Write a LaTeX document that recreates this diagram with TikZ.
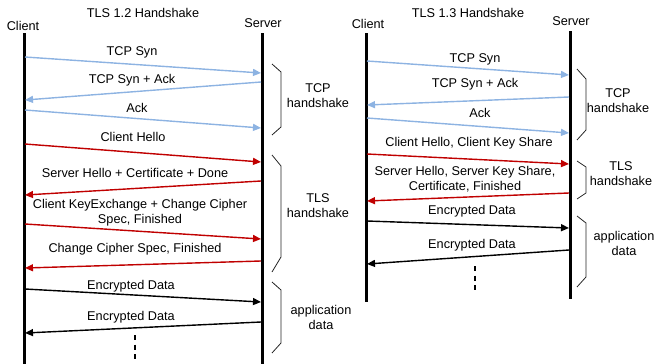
\documentclass[tikz,border=0pt]{standalone}
\usepackage{fontspec}
\setmainfont{Liberation Sans}
\usetikzlibrary{arrows.meta}
\definecolor{tcpblue}{RGB}{141,179,226}
\definecolor{tlsred}{RGB}{192,0,0}
\begin{document}
\begin{tikzpicture}[x=1pt,y=-1pt,
  life/.style={line width=3pt},
  msgarrow/.style={line width=1.4pt,-{Triangle[length=8pt,width=7pt]}},
  tcpmsg/.style={msgarrow,tcpblue},
  tlsmsg/.style={msgarrow,tlsred},
  datamsg/.style={msgarrow,black},
  lbl/.style={font=\fontsize{12.7}{15}\selectfont,align=center,inner sep=0pt},
  brk/.style={line width=0.8pt,black!85},
  dotline/.style={line width=2.6pt,dash pattern=on 5pt off 4.5pt}]
\useasboundingbox (0,0) rectangle (656,364);

% ---------------- TLS 1.2 ----------------
\node[lbl] (t12) at (143,13) {TLS 1.2 Handshake};
\node[lbl] (cl12) at (23,26) {Client};
\node[lbl] (sv12) at (263,23) {Server};
\coordinate (c12top) at (24,33); \coordinate (c12bot) at (24,364);
\coordinate (s12top) at (262,33); \coordinate (s12bot) at (262,364);
\draw[life] (c12top) -- (c12bot);
\draw[life] (s12top) -- (s12bot);

\coordinate (a1s) at (25,57);   \coordinate (a1e) at (261,73);
\coordinate (a2s) at (261,82);  \coordinate (a2e) at (25,100);
\coordinate (a3s) at (25,110);  \coordinate (a3e) at (261,128);
\coordinate (a4s) at (25,144);  \coordinate (a4e) at (261,162);
\coordinate (a5s) at (261,181); \coordinate (a5e) at (25,195);
\coordinate (a6s) at (25,224);  \coordinate (a6e) at (261,239);
\coordinate (a7s) at (261,261); \coordinate (a7e) at (25,268);
\coordinate (a8s) at (25,289);  \coordinate (a8e) at (261,302);
\coordinate (a9s) at (261,322); \coordinate (a9e) at (25,333);

\draw[tcpmsg] (a1s) -- (a1e);
\draw[tcpmsg] (a2s) -- (a2e);
\draw[tcpmsg] (a3s) -- (a3e);
\draw[tlsmsg] (a4s) -- (a4e);
\draw[tlsmsg] (a5s) -- (a5e);
\draw[tlsmsg] (a6s) -- (a6e);
\draw[tlsmsg] (a7s) -- (a7e);
\draw[datamsg] (a8s) -- (a8e);
\draw[datamsg] (a9s) -- (a9e);

\node[lbl] (l1) at (132,52) {TCP Syn};
\node[lbl] (l2) at (132,80) {TCP Syn + Ack};
\node[lbl] (l3) at (137,108) {Ack};
\node[lbl] (l4) at (133,137) {Client Hello};
\node[lbl] (l5) at (135,173) {Server Hello + Certificate + Done};
\node[lbl] (l6) at (140,213) {Client KeyExchange + Change Cipher\\Spec, Finished};
\node[lbl] (l7) at (135,249) {Change Cipher Spec, Finished};
\node[lbl] (l8) at (131,286) {Encrypted Data};
\node[lbl] (l9) at (131,317) {Encrypted Data};
\draw[dotline] (135,335) -- (135,359);

\draw[brk] (272,64) -- (281,72) -- (281,127) -- (272,135);
\draw[brk] (272,155) -- (281,166) -- (281,257) -- (272,272);
\draw[brk] (272,282) -- (281,290) -- (281,343) -- (272,353);
\node[lbl] (b1) at (318,96) {TCP\\handshake};
\node[lbl] (b2) at (318,206) {TLS\\handshake};
\node[lbl] (b3) at (321,317) {application\\data};

% ---------------- TLS 1.3 ----------------
\node[lbl] (t13) at (468,13) {TLS 1.3 Handshake};
\node[lbl] (cl13) at (368,24) {Client};
\node[lbl] (sv13) at (571,21) {Server};
\coordinate (c13top) at (366,33); \coordinate (c13bot) at (366,302);
\coordinate (s13top) at (570,31); \coordinate (s13bot) at (570,299);
\draw[life] (c13top) -- (c13bot);
\draw[life] (s13top) -- (s13bot);

\coordinate (b1s) at (367,61);  \coordinate (b1e) at (569,75);
\coordinate (b2s) at (569,97);  \coordinate (b2e) at (367,105);
\coordinate (b3s) at (367,118); \coordinate (b3e) at (569,133);
\coordinate (b4s) at (367,154); \coordinate (b4e) at (569,164);
\coordinate (b5s) at (569,193); \coordinate (b5e) at (367,201);
\coordinate (b6s) at (367,221); \coordinate (b6e) at (569,228);
\coordinate (b7s) at (569,250); \coordinate (b7e) at (367,264);

\draw[tcpmsg] (b1s) -- (b1e);
\draw[tcpmsg] (b2s) -- (b2e);
\draw[tcpmsg] (b3s) -- (b3e);
\draw[tlsmsg] (b4s) -- (b4e);
\draw[tlsmsg] (b5s) -- (b5e);
\draw[datamsg] (b6s) -- (b6e);
\draw[datamsg] (b7s) -- (b7e);

\node[lbl] (m1) at (475,59) {TCP Syn};
\node[lbl] (m2) at (475,84) {TCP Syn + Ack};
\node[lbl] (m3) at (480,113) {Ack};
\node[lbl] (m4) at (469,143) {Client Hello, Client Key Share};
\node[lbl] (m5) at (465,179) {Server Hello, Server Key Share,\\Certificate, Finished};
\node[lbl] (m6) at (472,211) {Encrypted Data};
\node[lbl] (m7) at (472,245) {Encrypted Data};
\draw[dotline] (475,266) -- (475,290);

\draw[brk] (577,69) -- (586,79) -- (586,130) -- (577,140);
\draw[brk] (577,161) -- (586,167) -- (586,193) -- (577,199);
\draw[brk] (577,216) -- (586,223) -- (586,277) -- (577,287);
\node[lbl] (n1) at (618,101) {TCP\\handshake};
\node[lbl] (n2) at (621,174) {TLS\\handshake};
\node[lbl] (n3) at (624,243) {application\\data};
\end{tikzpicture}
\end{document}
